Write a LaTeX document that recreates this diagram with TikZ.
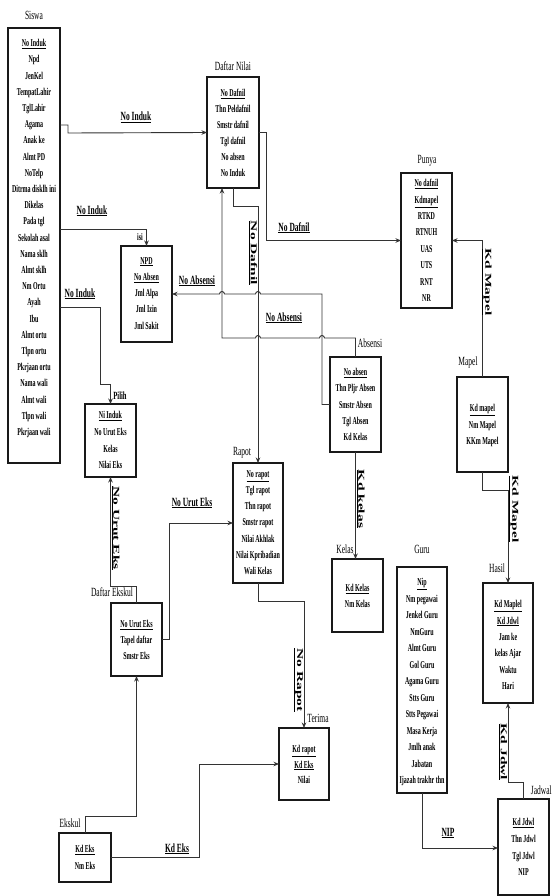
\documentclass[tikz,border=0pt]{standalone}
\usepackage{fontspec}
\setmainfont{Liberation Serif}
\newfontfamily\attrfont[FakeStretch=0.57]{Liberation Serif}
\newfontfamily\condfont[FakeStretch=0.6]{Liberation Serif}
\newfontfamily\widefont[FakeStretch=1.72]{Liberation Serif}
\usetikzlibrary{arrows.meta}

\tikzset{
  ent/.style={draw=black!90, line width=1.1pt, inner sep=0pt, outer sep=0pt},
  attr/.style={inner sep=0pt, align=center, anchor=north,
    font=\attrfont\bfseries\fontsize{10.5}{#1}\selectfont},
  attr/.default=16.3,
  ttl/.style={inner sep=0pt, anchor=base, font=\condfont\fontsize{12.5}{14}\selectfont},
  rel/.style={inner sep=0pt, anchor=base, font=\condfont\bfseries\fontsize{10}{12}\selectfont},
  lbl/.style={inner sep=0pt, anchor=base, font=\condfont\bfseries\fontsize{12.5}{14}\selectfont},
  vlbl/.style={inner sep=0pt, rotate=-90, font=\widefont\bfseries\fontsize{9}{11}\selectfont},
  conn/.style={draw=black!80, line width=0.9pt},
  arr/.style={conn, -{Stealth[length=5.5pt,width=4.5pt]}},
  hop/.style={start angle=0, end angle=-180, radius=2.5}
}

\begin{document}
\begin{tikzpicture}[x=1pt,y=-1pt]
\useasboundingbox (0,0) rectangle (553,896);

% ---------- entity boxes ----------
\node[ent, minimum width=52pt, minimum height=435pt] (siswa)   at (34,245.5)  {};
\node[ent, minimum width=52pt, minimum height=111pt] (dnilai)  at (233,132.5) {};
\node[ent, minimum width=51pt, minimum height=96pt]  (npd)     at (146.5,294) {};
\node[ent, minimum width=51pt, minimum height=135pt] (punya)   at (426.5,240.5) {};
\node[ent, minimum width=51pt, minimum height=95pt]  (mapel)   at (482.5,424.5) {};
\node[ent, minimum width=50pt, minimum height=120pt] (hasil)   at (508,643) {};
\node[ent, minimum width=51pt, minimum height=95pt]  (absensi) at (355.5,404.5) {};
\node[ent, minimum width=51pt, minimum height=73pt]  (kelas)   at (357.5,595.5) {};
\node[ent, minimum width=50pt, minimum height=226pt] (guru)    at (422,680) {};
\node[ent, minimum width=51pt, minimum height=96pt]  (jadwal)  at (523.5,847) {};
\node[ent, minimum width=50pt, minimum height=120pt] (rapot)   at (258,523) {};
\node[ent, minimum width=50pt, minimum height=72pt]  (terima)  at (304,764) {};
\node[ent, minimum width=52pt, minimum height=49pt]  (ekskul)  at (85,857.5) {};
\node[ent, minimum width=51pt, minimum height=73pt]  (dekskul) at (136.5,639.5) {};
\node[ent, minimum width=51pt, minimum height=73pt]  (pilih)   at (110.5,440.5) {};

% ---------- box titles ----------
\node[ttl] (siswa-n)   at (34,20)     {Siswa};
\node[ttl] (dnilai-n)  at (233,71)    {Daftar Nilai};
\node[rel] (npd-n)     at (140,240)   {isi};
\node[ttl] (punya-n)   at (427,164)   {Punya};
\node[ttl] (mapel-n)   at (468,365)   {Mapel};
\node[ttl] (hasil-n)   at (497,572)   {Hasil};
\node[ttl] (absensi-n) at (370,347)   {Absensi};
\node[ttl] (kelas-n)   at (345,553)   {Kelas};
\node[ttl] (guru-n)    at (422,553)   {Guru};
\node[ttl, anchor=base east] (jadwal-n) at (552,794) {Jadwal};
\node[ttl] (rapot-n)   at (242,455)   {Rapot};
\node[ttl] (terima-n)  at (318,722)   {Terima};
\node[ttl] (ekskul-n)  at (70,827)    {Ekskul};
\node[ttl] (dekskul-n) at (112,596)   {Daftar Ekskul};
\node[rel, font=\condfont\bfseries\fontsize{11}{12}\selectfont] (pilih-n) at (120,399) {Pilih};

% ---------- attributes ----------
\node[attr=16.2] (siswa-t) at (34,39.2) {\underline{No Induk}\\Npd\\JenKel\\TempatLahir\\TglLahir\\Agama\\Anak ke\\Almt PD\\NoTelp\\Ditrma disklh ini\\Dikelas\\Pada tgl\\Sekolah asal\\Nama sklh\\Almt sklh\\Nm Ortu\\Ayah\\Ibu\\Almt ortu\\Tlpn ortu\\Pkrjaan ortu\\Nama wali\\Almt wali\\Tlpn wali\\Pkrjaan wali};
\node[attr=16] (dnilai-t) at (233,89.2) {\underline{No Dafnil}\\Thn Peldafnil\\Smstr dafnil\\Tgl dafnil\\No absen\\No Induk};
\node[attr=16.2] (npd-t) at (146.5,257.2) {\underline{NPD}\\\underline{No Absen}\\Jml Alpa\\Jml Izin\\Jml Sakit};
\node[attr=16.4] (punya-t) at (426.5,179.2) {\underline{No dafnil}\\\underline{Kdmapel}\\RTKD\\RTNUH\\UAS\\UTS\\RNT\\NR};
\node[attr=16.5] (mapel-t) at (482.5,404.2) {\underline{Kd mapel}\\Nm Mapel\\KKm Mapel};
\node[attr=16.4] (hasil-t) at (508,600.2) {\underline{Kd Maplel}\\\underline{Kd Jdwl}\\Jam ke\\kelas Ajar\\Waktu\\Hari};
\node[attr=16.3] (absensi-t) at (355.5,368.2) {\underline{No absen}\\Thn Pljr Absen\\Smstr Absen\\Tgl Absen\\Kd Kelas};
\node[attr=15.5] (kelas-t) at (357.5,584.2) {\underline{Kd Kelas}\\Nm Kelas};
\node[attr=16.5] (guru-t) at (422,578.2) {\underline{Nip}\\Nm pegawai\\Jenkel Guru\\NmGuru\\Almt Guru\\Gol Guru\\Agama Guru\\Stts Guru\\Stts Pegawai\\Masa Kerja\\Jmlh anak\\Jabatan\\Ijazah trakhr thn};
\node[attr=16.7] (jadwal-t) at (523.5,818.2) {\underline{Kd Jdwl}\\Thn Jdwl\\Tgl Jdwl\\NIP};
\node[attr=16.2] (rapot-t) at (258,470.2) {\underline{No rapot}\\Tgl rapot\\Thn rapot\\Smstr rapot\\Nilai Akhlak\\Nilai Kpribadian\\Wali Kelas};
\node[attr=15.5] (terima-t) at (304,745.2) {\underline{Kd rapot}\\\underline{Kd Eks}\\Nilai};
\node[attr=17] (ekskul-t) at (85,845.2) {\underline{Kd Eks}\\Nm Eks};
\node[attr=16] (dekskul-t) at (136.5,620.2) {\underline{No Urut Eks}\\Tapel daftar\\Smstr Eks};
\node[attr=16.7] (pilih-t) at (110.5,411.2) {\underline{Ni Induk}\\No Urut Eks\\Kelas\\Nilai Eks};

% ---------- connectors ----------
% Siswa -> Daftar Nilai
\draw[arr] (siswa.east |- 0,125) -- (68,125) -- (68,133) -- (dnilai.west);
\node[lbl] (l1) at (136,121) {\underline{No Induk}};
% Siswa -> NPD
\draw[arr] (siswa.east |- 0,229) -| (npd.north);
\node[lbl] (l2) at (92,214) {\underline{No Induk}};
% Siswa -> Pilih
\draw[arr] (siswa.east |- 0,307) -| (100,384) -| (pilih.north);
\node[lbl] (l3) at (80,297) {\underline{No Induk}};
% Daftar Nilai -> Punya
\draw[arr] (dnilai.east) -- (266,132.5) |- (punya.west);
\node[lbl] (l4) at (294,231) {\underline{No Dafnil}};
% Mapel -> Punya
\draw[arr] (mapel.north) |- (punya.east);
\node[vlbl] (l5) at (486.5,282) {\underline{Kd Mapel}};
% Daftar Nilai -> Rapot
\draw[arr] (dnilai.south) |- (rapot.north |- 0,206) -- (rapot.north);
\node[vlbl] (l6) at (253,253) {\underline{No Dafnil}};
% Absensi -> Daftar Nilai (jumps over two verticals)
\draw[arr] (absensi.north) |- (324.5,338) arc[hop] -- (260.5,338) arc[hop]
  -- (222,338) -- ([xshift=-11pt]dnilai.south);
\node[lbl] (l7) at (284,321) {\underline{No Absensi}};
% Absensi -> NPD (jumps over two verticals)
\draw[arr] (absensi.west) -- (322,404.5) -- (322,294) -- (260.5,294) arc[hop]
  -- (224.5,294) arc[hop] -- (npd.east);
\node[lbl] (l8) at (197,284) {\underline{No Absensi}};
% Absensi -> Kelas
\draw[arr] (absensi.south) -- (absensi.south |- kelas.north);
\node[vlbl] (l9) at (360.5,499) {\underline{Kd kelas}};
% Mapel -> Hasil
\draw[arr] (mapel.south) |- (hasil.north |- 0,490) -- (hasil.north);
\node[vlbl] (l10) at (513.5,509) {\underline{Kd Mapel}};
% Jadwal -> Hasil
\draw[arr] (jadwal.north) |- (hasil.south |- 0,782) -- (hasil.south);
\node[vlbl] (l11) at (503,752) {\underline{Kd Jdwl}};
% Guru -> Jadwal
\draw[arr] (guru.south) |- (jadwal.west |- 0,848);
\node[lbl] (l12) at (448,836) {\underline{NIP}};
% Rapot -> Terima
\draw[arr] (rapot.south) |- (terima.north |- 0,601) -- (terima.north);
\node[vlbl] (l13) at (298,680) {\underline{No Rapot}};
% Ekskul -> Terima
\draw[arr] (ekskul.east) -- (199,857.5) |- (terima.west);
\node[lbl] (l14) at (177,852) {\underline{Kd Eks}};
% Ekskul -> Daftar Ekskul
\draw[arr] (ekskul.north) |- (dekskul.south |- 0,816) -- (dekskul.south);
% Daftar Ekskul -> Rapot
\draw[arr] (dekskul.east) -- (169,639.5) |- (rapot.west);
\node[lbl] (l15) at (192,506) {\underline{No Urut Eks}};
% Daftar Ekskul -> Pilih
\draw[arr] (dekskul.north) |- (pilih.south |- 0,586) -- (pilih.south);
\node[vlbl] (l16) at (115.5,528) {\underline{No Urut Eks}};
\end{tikzpicture}
\end{document}
